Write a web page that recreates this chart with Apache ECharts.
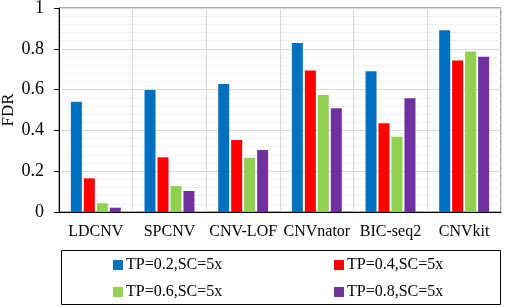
<!DOCTYPE html>
<html><head><meta charset="utf-8">
<script src="https://cdn.jsdelivr.net/npm/echarts@6/dist/echarts.min.js"></script>
<style>html,body{margin:0;padding:0;background:#fff}#c{width:505px;height:307px}</style>
</head><body><div id="c"></div>
<script>
const categories = ['LDCNV','SPCNV','CNV-LOF','CNVnator','BIC-seq2','CNVkit'];
const seriesNames = ['TP=0.2,SC=5x','TP=0.4,SC=5x','TP=0.6,SC=5x','TP=0.8,SC=5x'];
const tp02 = [0.54, 0.598, 0.627, 0.828, 0.69, 0.891];
const tp04 = [0.165, 0.268, 0.353, 0.694, 0.435, 0.743];
const tp06 = [0.043, 0.127, 0.266, 0.574, 0.369, 0.787];
const tp08 = [0.021, 0.103, 0.304, 0.508, 0.557, 0.761];
const colors = ['#0070C0','#FF0000','#92D050','#7030A0'];
const values = [tp02, tp04, tp06, tp08];
const font = 'Liberation Serif';
const chart = echarts.init(document.getElementById('c'));
const legendPos = [[108,252],[329,252],[108,279],[329,279]];
chart.setOption({
  animation:false,
  textStyle:{fontFamily:font},
  grid:{left:59,top:8,right:4,bottom:95,show:true,borderColor:'#595959',borderWidth:1,containLabel:false,outerBoundsMode:'none'},
  xAxis:{type:'category',data:categories,
    axisLine:{lineStyle:{color:'#000',width:1}},axisTick:{show:false},
    axisLabel:{color:'#000',fontSize:16,fontFamily:font,margin:12,interval:0},
    splitLine:{show:true,interval:0,lineStyle:{color:'#d9d9d9'}}},
  yAxis:{type:'value',min:0,max:1,interval:0.2,name:'FDR',nameLocation:'middle',nameGap:42,nameMoveOverlap:false,
    nameTextStyle:{color:'#000',fontSize:17,fontFamily:font},
    axisLine:{show:true,lineStyle:{color:'#000',width:1}},
    axisTick:{show:true,length:5,lineStyle:{color:'#000'}},
    axisLabel:{color:'#000',fontSize:18,fontFamily:font,margin:15,align:'right'},
    splitLine:{show:true,lineStyle:{color:'#d9d9d9'}},
    minorTick:{show:false,splitNumber:5},
    minorSplitLine:{show:true,lineStyle:{color:'#f0f0f0'}}},
  legend: seriesNames.map((n,i)=>({data:[n],left:legendPos[i][0],top:legendPos[i][1],icon:'rect',itemWidth:10,itemHeight:10,itemGap:4,
    textStyle:{color:'#000',fontSize:16,fontFamily:font,padding:[0,0,0,-2]}})),
  graphic:[{type:'rect',shape:{x:61.5,y:250.5,width:439,height:54},style:{fill:'none',stroke:'#000',lineWidth:1},silent:true}],
  series: seriesNames.map((n,i)=>({name:n,type:'bar',data:values[i],barWidth:11,barGap:'18%',itemStyle:{color:colors[i]}}))
});
</script></body></html>
